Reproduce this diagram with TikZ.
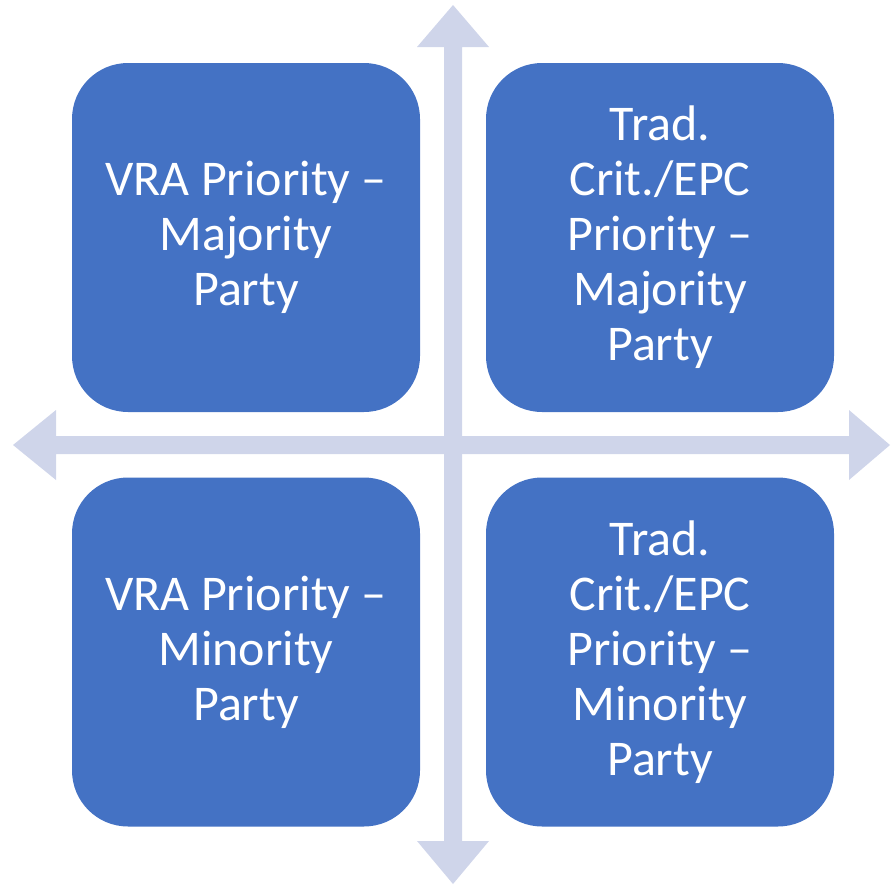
\documentclass[tikz,border=0pt]{standalone}
\usepackage{fontspec}
\setmainfont{Carlito}
\definecolor{boxblue}{HTML}{4472C4}
\definecolor{axisgray}{HTML}{CFD5EA}
\begin{document}
\begin{tikzpicture}[x=1pt,y=-1pt,
  quad/.style={fill=boxblue, draw=none, rounded corners=56pt,
    minimum width=348pt, minimum height=349pt, inner sep=0pt,
    text=white, align=center,
    font=\fontsize{50pt}{55pt}\selectfont},
  axis/.style={fill=axisgray, draw=none}]
\useasboundingbox (0,0) rectangle (891,886);
% horizontal double arrow
\fill[axis] (13,445) -- (56,410) -- (56,436) -- (849,436) -- (849,410)
  -- (890,445) -- (849,480) -- (849,454) -- (56,454) -- (56,480) -- cycle;
% vertical double arrow
\fill[axis] (453,5) -- (489,47) -- (462,47) -- (462,841) -- (489,841)
  -- (453,884) -- (417,841) -- (444,841) -- (444,47) -- (417,47) -- cycle;
% quadrants
\node[quad] (tl) at (246,237.5) {VRA Priority –\\Majority\\Party};
\node[quad] (tr) at (660,237.5) {Trad.\\Crit./EPC\\Priority –\\Majority\\Party};
\node[quad] (bl) at (246,652) {VRA Priority –\\Minority\\Party};
\node[quad] (br) at (660,652) {Trad.\\Crit./EPC\\Priority –\\Minority\\Party};
\end{tikzpicture}
\end{document}
